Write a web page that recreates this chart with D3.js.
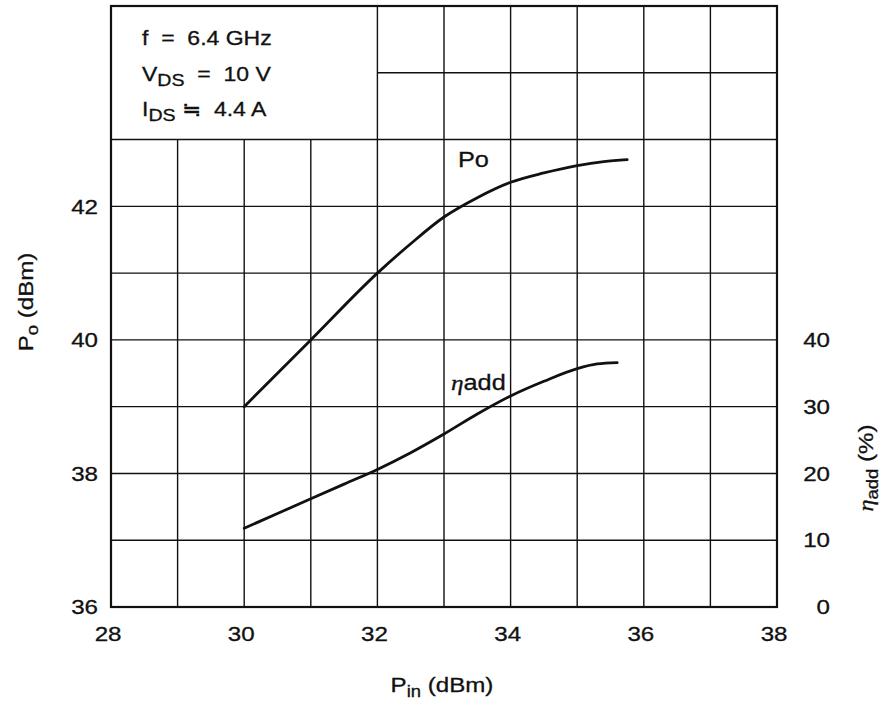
<!DOCTYPE html>
<html><head><meta charset="utf-8">
<script src="https://cdn.jsdelivr.net/npm/d3@7"></script>
<style>
body{margin:0;background:#fff}
text{font-family:"Liberation Sans",Arial,Helvetica,sans-serif;fill:#111;stroke:#111;stroke-width:0.3px}
</style>
</head><body>
<svg id="c" width="882" height="705"></svg>
<script>
// ---- data ----
const xTicks = [28, 30, 32, 34, 36, 38];
const poTicks = [36, 38, 40, 42];
const etaTicks = [0, 10, 20, 30, 40];
const xGrid = [29, 30, 31, 32, 33, 34, 35, 36, 37];
const yGrid = [37, 38, 39, 40, 41, 42, 43, 44];
const pinPo = [30, 31, 32, 32.5, 33, 33.5, 34, 34.5, 35, 35.4, 35.75];
const po    = [39.0, 40.0, 41.0, 41.44, 41.84, 42.13, 42.36, 42.50, 42.61, 42.67, 42.70];
const pinEta = [30, 30.5, 31, 31.5, 32, 32.5, 33, 33.5, 34, 34.5, 35, 35.3, 35.6];
const eta    = [11.8, 14.0, 16.2, 18.4, 20.6, 23.1, 25.9, 28.9, 31.6, 33.8, 35.7, 36.4, 36.6];
const noteLines = [
  [["f  =  6.4 GHz", ""]],
  [["V", ""], ["DS", "sub"], ["  =  10 V", ""]],
  [["I", ""], ["DS", "sub"], [" \u2252  4.4 A", ""]]
];

// ---- layout ----
const svg = d3.select("#c");
const L = 111, R = 777, T = 6, B = 607;
const SX = 1.15; // horizontal stretch of lettering
const x = d3.scaleLinear().domain([28, 38]).range([L, R]);
const y = d3.scaleLinear().domain([36, 45]).range([B, T]);
const yE = d3.scaleLinear().domain([0, 90]).range([B, T]);
const ink = "#111";

// grid (blank inside the condition box: 28..32 x 43..45)
const g = svg.append("g").attr("stroke", ink).attr("stroke-width", 1.4);
g.selectAll("line.v").data(xGrid).join("line").attr("class", "v")
  .attr("x1", d => x(d)).attr("x2", d => x(d))
  .attr("y1", y(36))
  .attr("y2", d => (d < 32 ? y(43) : y(45)));
g.selectAll("line.h").data(yGrid).join("line").attr("class", "h")
  .attr("y1", d => y(d)).attr("y2", d => y(d))
  .attr("x1", d => (d > 43 ? x(32) : x(28)))
  .attr("x2", x(38));

// frame
svg.append("rect").attr("x", L).attr("y", T).attr("width", R - L).attr("height", B - T)
  .attr("fill", "none").attr("stroke", ink).attr("stroke-width", 2.2);

// axes (labels only)
const fs = 21;
const ax = svg.append("g").attr("transform", `translate(0,${B})`)
  .call(d3.axisBottom(x).tickValues(xTicks).tickSize(0).tickPadding(19).tickFormat(d3.format("d")));
const ay = svg.append("g").attr("transform", `translate(${L},0)`)
  .call(d3.axisLeft(y).tickValues(poTicks).tickSize(0).tickPadding(13).tickFormat(d3.format("d")));
const ae = svg.append("g").attr("transform", `translate(${R},0)`)
  .call(d3.axisRight(yE).tickValues(etaTicks).tickSize(0).tickPadding(53).tickFormat(d3.format("d")));
ae.selectAll("text").attr("text-anchor", "end");
ax.selectAll("text").attr("dx", -3);
[ax, ay, ae].forEach(a => {
  a.select(".domain").remove();
  a.selectAll("text").each(function () {
    const t = d3.select(this);
    const tx = +t.attr("x") || 0;
    t.attr("x", 0).attr("transform", `translate(${tx},0) scale(${SX},1)`)
      .style("font-size", fs + "px").attr("fill", ink)
      .style("font-family", '"Liberation Sans",Arial,sans-serif');
  });
});

// curves
const line = d3.line().x(d => x(d[0])).curve(d3.curveMonotoneX);
svg.append("path").datum(pinPo.map((p, i) => [p, po[i]]))
  .attr("d", line.y(d => y(d[1])))
  .attr("fill", "none").attr("stroke", ink).attr("stroke-width", 2.8).attr("stroke-linecap", "round");
svg.append("path").datum(pinEta.map((p, i) => [p, eta[i]]))
  .attr("d", line.y(d => yE(d[1])))
  .attr("fill", "none").attr("stroke", ink).attr("stroke-width", 2.8).attr("stroke-linecap", "round");

// curve labels
svg.append("text").attr("transform", `translate(458,167) scale(${SX},1)`).style("font-size", "22px").text("Po");
const et = svg.append("text").attr("transform", `translate(451,390) scale(${SX},1)`).style("font-size", "22px");
et.append("tspan").style("font-family", '"Liberation Serif",serif').style("font-style", "italic").text("\u03b7");
et.append("tspan").text("add");

// condition notes
noteLines.forEach((ln, i) => {
  const t = svg.append("text").attr("transform", `translate(142,${45 + i * 35.5}) scale(${SX},1)`)
    .style("font-size", "20px").attr("xml:space", "preserve").style("white-space", "pre");
  ln.forEach(([s, k], j) => {
    const sp = t.append("tspan").text(s);
    if (k === "sub") sp.attr("dy", 5).style("font-size", "17px");
    else if (j > 0) sp.attr("dy", -5);
  });
});

// axis titles
const xt = svg.append("text").attr("transform", `translate(442,692) scale(${SX},1)`).attr("text-anchor", "middle").style("font-size", fs + "px");
xt.append("tspan").text("P");
xt.append("tspan").attr("dy", 5).style("font-size", "16px").text("in");
xt.append("tspan").attr("dy", -5).text(" (dBm)");

const yt = svg.append("text").attr("transform", `translate(33,302) rotate(-90) scale(${SX},1)`).attr("text-anchor", "middle").style("font-size", fs + "px");
yt.append("tspan").text("P");
yt.append("tspan").attr("dy", 5).style("font-size", "16px").text("o");
yt.append("tspan").attr("dy", -5).text(" (dBm)");

const rt = svg.append("text").attr("transform", `translate(873,468) rotate(-90) scale(${SX},1)`).attr("text-anchor", "middle").style("font-size", fs + "px");
rt.append("tspan").style("font-family", '"Liberation Serif",serif').style("font-style", "italic").text("\u03b7");
rt.append("tspan").attr("dy", 5).style("font-size", "16px").text("add");
rt.append("tspan").attr("dy", -5).text(" (%)");
</script>
</body></html>
